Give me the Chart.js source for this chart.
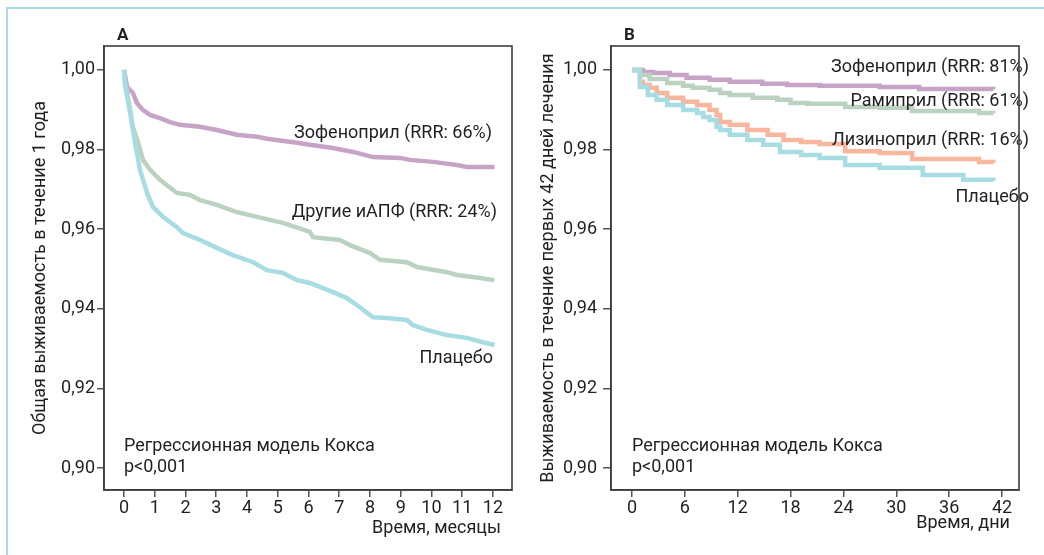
<!DOCTYPE html>
<html><head><meta charset="utf-8">
<script src="https://cdn.jsdelivr.net/npm/chart.js@4.4.0/dist/chart.umd.min.js"></script>
<style>
html,body{margin:0;padding:0;background:#fff;width:1044px;height:555px;overflow:hidden;position:relative}
#frame{position:absolute;left:6px;top:7px;width:1060px;height:570px;border-top:2px solid #a9dce4;border-left:2px solid #a9dce4}
#ca{position:absolute;left:0;top:0}
#cb{position:absolute;left:520px;top:0}
</style></head><body>
<div id="frame"></div>
<canvas id="ca" width="520" height="555"></canvas>
<canvas id="cb" width="524" height="555"></canvas>
<script>
// ---------- Panel A data (months, overall survival) ----------
const monthsZofA = [0, 0.1, 0.29, 0.42, 0.62, 0.85, 1.17, 1.5, 1.82, 2.47, 3.02, 3.67, 4.33, 4.65, 5.63, 6.05, 6.8, 7.45, 8.1, 8.98, 9.3, 10.05, 10.83, 11.15, 12.05];
const survZofA   = [1.0, 0.9957, 0.9942, 0.9917, 0.9899, 0.9887, 0.9879, 0.9869, 0.9862, 0.9857, 0.9849, 0.9837, 0.9832, 0.9827, 0.9817, 0.9812, 0.9804, 0.9794, 0.9781, 0.9779, 0.9774, 0.9769, 0.9761, 0.9756, 0.9756];
const monthsOthA = [0, 0.03, 0.2, 0.29, 0.46, 0.62, 0.85, 1.17, 1.72, 2.15, 2.47, 3.02, 3.67, 4.33, 5.17, 6.05, 6.15, 7.02, 7.35, 8.0, 8.33, 9.2, 9.53, 10.5, 10.83, 11.35, 12.05];
const survOthA   = [1.0, 0.9975, 0.9899, 0.9857, 0.9817, 0.9774, 0.9749, 0.9724, 0.9691, 0.9686, 0.9673, 0.9661, 0.9643, 0.9631, 0.9616, 0.9593, 0.9580, 0.9573, 0.9560, 0.9540, 0.9523, 0.9517, 0.9505, 0.9492, 0.9485, 0.9480, 0.9472];
const monthsPlaA = [0, 0.03, 0.2, 0.36, 0.52, 0.75, 0.94, 1.27, 1.72, 1.92, 2.47, 3.02, 3.54, 4.2, 4.65, 5.17, 5.63, 6.05, 6.8, 7.25, 7.67, 8.1, 8.55, 9.2, 9.4, 9.85, 10.5, 11.15, 11.67, 12.05];
const survPlaA   = [1.0, 0.9962, 0.9892, 0.9817, 0.9749, 0.9691, 0.9656, 0.9631, 0.9605, 0.9590, 0.9573, 0.9553, 0.9535, 0.9517, 0.9497, 0.9490, 0.9472, 0.9465, 0.9442, 0.9427, 0.9404, 0.9379, 0.9377, 0.9372, 0.9359, 0.9347, 0.9334, 0.9327, 0.9316, 0.9309];
const xTicksA = [0,1,2,3,4,5,6,7,8,9,10,11,12];

// ---------- Panel B data (days, survival during first 42 days) ----------
const daysZofB = [0, 1.25, 2.4, 4.3, 6.2, 8.8, 11.1, 14.8, 17.6, 21.3, 28.1, 32.6, 41];
const survZofB = [1.0, 0.9995, 0.9992, 0.9987, 0.9980, 0.9975, 0.9970, 0.9965, 0.9962, 0.9960, 0.9957, 0.9952, 0.9951];
const daysRamB = [0, 0.9, 2.0, 4.0, 5.8, 6.9, 8.8, 10.0, 11.1, 13.7, 16.5, 18.0, 19.9, 24.2, 28.1, 31.8, 39.4, 41];
const survRamB = [1.0, 0.9987, 0.9977, 0.9967, 0.9960, 0.9955, 0.9950, 0.9942, 0.9937, 0.9930, 0.9925, 0.9917, 0.9915, 0.9907, 0.9905, 0.9897, 0.9892, 0.9891];
const daysLizB = [0, 0.9, 1.25, 2.0, 2.8, 4.0, 5.8, 7.4, 8.8, 9.6, 10.0, 11.1, 13.1, 15.4, 17.2, 19.2, 21.3, 24.2, 28.1, 31.8, 39.4, 41];
const survLizB = [1.0, 0.9970, 0.9962, 0.9955, 0.9942, 0.9930, 0.9920, 0.9912, 0.9899, 0.9887, 0.9869, 0.9862, 0.9849, 0.9837, 0.9824, 0.9819, 0.9814, 0.9796, 0.9791, 0.9776, 0.9769, 0.9766];
const daysPlaB = [0, 0.9, 1.8, 2.8, 4.0, 5.8, 7.4, 8.1, 8.8, 9.6, 10.0, 11.1, 13.1, 14.9, 16.8, 19.2, 21.3, 24.2, 28.1, 33.0, 37.6, 41];
const survPlaB = [1.0, 0.9957, 0.9937, 0.9925, 0.9912, 0.9899, 0.9892, 0.9882, 0.9874, 0.9857, 0.9849, 0.9837, 0.9824, 0.9812, 0.9794, 0.9786, 0.9779, 0.9761, 0.9754, 0.9736, 0.9724, 0.9721];
const xTicksB = [0,6,12,18,24,30,36,42];

const yTicks = [0.90, 0.92, 0.94, 0.96, 0.98, 1.00];

const FONT = 'Roboto';
const FS = 18;
const TXT = '#231f20';
const COL = {zof:'#c8a3c8', oth:'#bcd2c0', pla:'#a8dce3', liz:'#f8b79d'};

function pts(xs, ys){ return xs.map((x,i)=>({x:x, y:ys[i]})); }

const annotPlugin = {
  id:'annot',
  afterDraw(chart, args, opts){
    const ctx = chart.ctx;
    ctx.save();
    (opts.items||[]).forEach(t=>{
      ctx.font = t.font || (FS + 'px ' + FONT);
      ctx.fillStyle = TXT;
      ctx.textAlign = t.align || 'left';
      ctx.textBaseline = 'alphabetic';
      ctx.fillText(t.text, t.x, t.y);
    });
    const a = chart.chartArea;
    ctx.strokeStyle = '#3d3d3d';
    ctx.lineWidth = 1.6;
    ctx.strokeRect(a.left, a.top, a.right - a.left, a.bottom - a.top);
    ctx.restore();
  }
};

function makeOptions(c){
  return {
    responsive:false, animation:false,
    layout:{padding:{top:46, right:c.padRight, left:0, bottom:0}},
    plugins:{legend:{display:false}, tooltip:{enabled:false}, annot:{items:c.items}},
    scales:{
      x:{type:'linear', min:c.xMin, max:c.xMax,
         afterBuildTicks:(s)=>{ s.ticks = c.xTicks.map(v=>({value:v})); },
         afterFit:(s)=>{ s.height = 65; },
         ticks:{color:TXT, font:{family:FONT, size:FS}, padding:1, maxRotation:0, autoSkip:false,
                callback:(v)=>String(v)},
         grid:{drawOnChartArea:false, drawTicks:true, tickLength:7, color:'#555', lineWidth:1.5},
         border:{display:true, color:'#3d3d3d', width:1.6},
         title:{display:false}},
      y:{type:'linear', min:0.8945, max:1.006,
         afterBuildTicks:(s)=>{ s.ticks = yTicks.map(v=>({value:v})); },
         afterFit:(s)=>{ s.width = c.yWidth; },
         ticks:{color:TXT, font:{family:FONT, size:FS}, padding:c.yTickPad, autoSkip:false,
                callback:(v)=>v.toFixed(2).replace('.', ',')},
         grid:{drawOnChartArea:false, drawTicks:true, tickLength:c.yTickLen, color:'#555', lineWidth:1.5},
         border:{display:true, color:'#3d3d3d', width:1.6},
         title:{display:true, text:c.yTitle, color:TXT, font:{family:FONT, size:FS}, padding:{top:c.yTitlePad, bottom:0}}}
    }
  };
}

function ds(label, xs, ys, color, stepped){
  return {label:label, data:pts(xs, ys), borderColor:color, backgroundColor:color, borderWidth:4.5,
          pointRadius:0, fill:false, tension:0, stepped:stepped, borderCapStyle:'butt', borderJoinStyle:'miter'};
}

new Chart(document.getElementById('ca'), {
  type:'line',
  data:{datasets:[
    ds('Плацебо', monthsPlaA, survPlaA, COL.pla, false),
    ds('Другие иАПФ', monthsOthA, survOthA, COL.oth, false),
    ds('Зофеноприл', monthsZofA, survZofA, COL.zof, false)
  ]},
  options: makeOptions({
    xMin:-0.65, xMax:12.62, xTicks:xTicksA, padRight:8, yWidth:104, yTickPad:2, yTickLen:7, yTitlePad:30,
    yTitle:'Общая выживаемость в течение 1 года',
    items:[
      {text:'A', x:117, y:40, align:'left', font:'bold 17px ' + FONT},
      {text:'Зофеноприл (RRR: 66%)', x:492, y:138, align:'right'},
      {text:'Другие иАПФ (RRR: 24%)', x:497, y:217, align:'right'},
      {text:'Плацебо', x:493, y:363, align:'right'},
      {text:'Регрессионная модель Кокса', x:124, y:451, align:'left'},
      {text:'p<0,001', x:124, y:472, align:'left'},
      {text:'Время, месяцы', x:501, y:533, align:'right'}
    ]
  }),
  plugins:[annotPlugin]
});

new Chart(document.getElementById('cb'), {
  type:'line',
  data:{datasets:[
    ds('Плацебо', daysPlaB, survPlaB, COL.pla, 'before'),
    ds('Лизиноприл', daysLizB, survLizB, COL.liz, 'before'),
    ds('Рамиприл', daysRamB, survRamB, COL.oth, 'before'),
    ds('Зофеноприл', daysZofB, survZofB, COL.zof, 'before')
  ]},
  options: makeOptions({
    xMin:-2.38, xMax:43.93, xTicks:xTicksB, padRight:25, yWidth:91, yTickPad:6, yTickLen:8, yTitlePad:18,
    yTitle:'Выживаемость в течение первых 42 дней лечения',
    items:[
      {text:'B', x:104, y:40, align:'left', font:'bold 17px ' + FONT},
      {text:'Зофеноприл (RRR: 81%)', x:509, y:72, align:'right'},
      {text:'Рамиприл (RRR: 61%)', x:509, y:106, align:'right'},
      {text:'Лизиноприл (RRR: 16%)', x:509, y:145, align:'right'},
      {text:'Плацебо', x:509, y:202, align:'right'},
      {text:'Регрессионная модель Кокса', x:112, y:451, align:'left'},
      {text:'p<0,001', x:112, y:472, align:'left'},
      {text:'Время, дни', x:490, y:528, align:'right'}
    ]
  }),
  plugins:[annotPlugin]
});
</script>
</body></html>
